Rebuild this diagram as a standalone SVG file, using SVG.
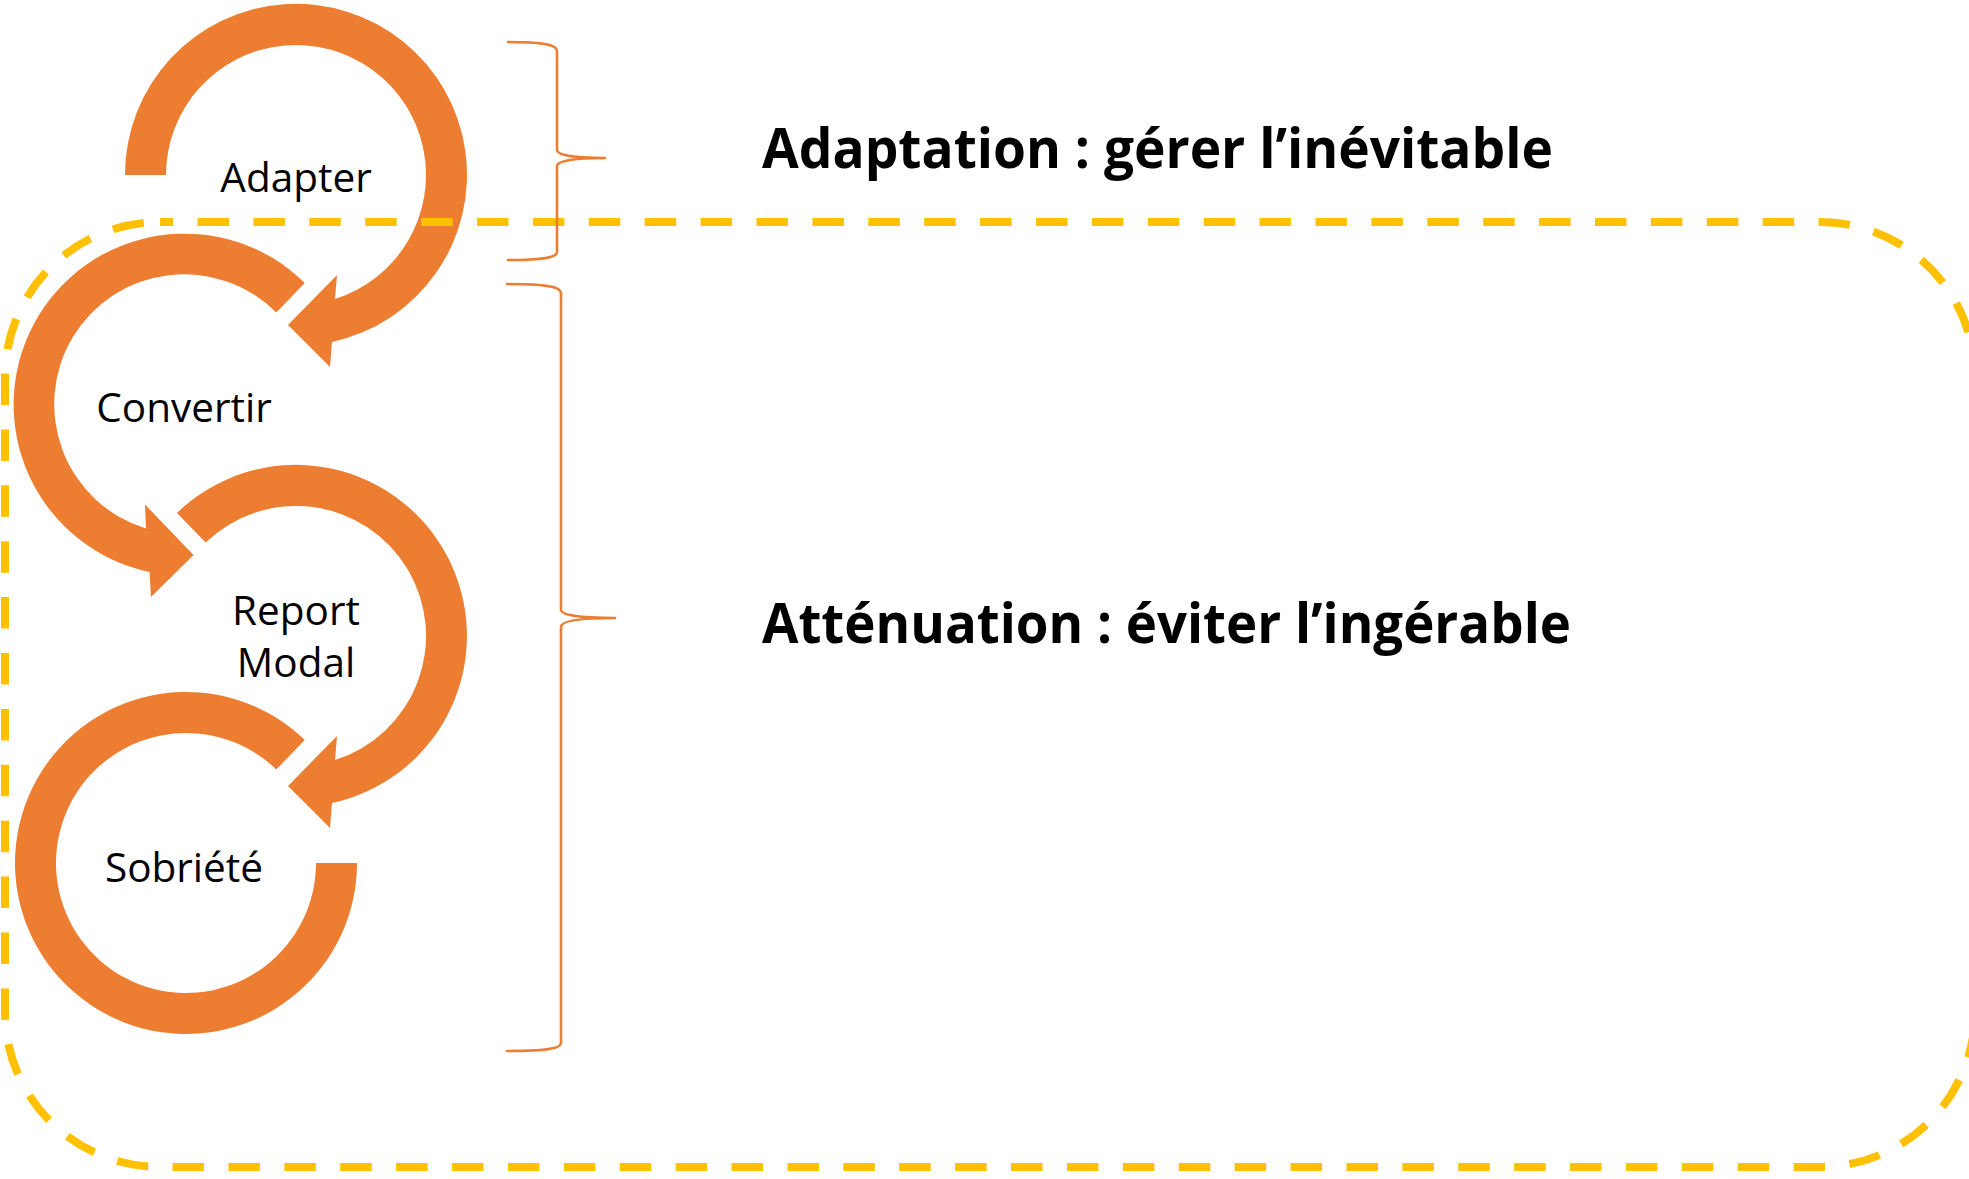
<svg xmlns="http://www.w3.org/2000/svg" width="1969" height="1179" viewBox="0 0 1969 1179">
  <style>
    .ring { fill: #ED7D31; stroke: none; }
    .label { font-family: "Open Sans", "Liberation Sans", sans-serif; font-size: 40.5px; fill: #000; text-anchor: middle; }
    .title { font-family: "Open Sans", "Liberation Sans", sans-serif; font-size: 55px; font-weight: 700; fill: #000; }
    .brace { fill: none; stroke: #ED7D31; stroke-width: 2.6; stroke-linecap: round; stroke-linejoin: round; }
    .frame { fill: none; stroke: #FFC000; stroke-width: 8; stroke-dasharray: 31.5 24.4; stroke-dashoffset: 18.4; }
  </style>
  <rect width="1969" height="1179" fill="#FFFFFF"/>

  <!-- cycle of circular arrows -->
  <g id="cycle">
    <g id="node-adapter">
      <path class="ring" d="M 125 175 A 171 171 0 1 1 332 342 L 330 367 L 288 325 L 337 275 L 335 299 A 130 130 0 1 0 166 175 Z"/>
      <text class="label" x="296" y="192">Adapter</text>
    </g>
    <g id="node-convertir">
      <path class="ring" d="M 304.8 283 A 171 171 0 1 0 149.5 572 L 151 597 L 193.5 555 L 145 504.5 L 146 528.5 A 130 130 0 1 1 276.3 312.5 Z"/>
      <text class="label" x="184" y="422">Convertir</text>
    </g>
    <g id="node-report-modal">
      <path class="ring" d="M 177 513 A 171 171 0 1 1 332 803 L 330 828 L 288 786 L 337 736 L 335 760 A 130 130 0 1 0 205.7 542.5 Z"/>
      <text class="label" x="296" y="625">Report</text>
      <text class="label" x="296" y="677">Modal</text>
    </g>
    <g id="node-sobriete">
      <path class="ring" d="M 304.8 740 A 171 171 0 1 0 357 863 L 316 863 A 130 130 0 1 1 276.3 769.5 Z"/>
      <text class="label" x="184" y="882">Sobriété</text>
    </g>
  </g>

  <!-- dashed frame around the mitigation levers -->
  <g id="scope-frame">
    <rect class="frame" x="5" y="222" width="1970" height="945" rx="155" ry="155"/>
  </g>

  <!-- curly braces linking the levers to their headings -->
  <g id="connectors">
    <path class="brace" d="M 508 42 C 545 42 557 45 557 51 L 557 150 C 557 155 572 158 605 158 C 572 158 557 161 557 166 L 557 252 C 557 257 545 260 508 260"/>
    <path class="brace" d="M 507 284 C 548 284 561 287 561 293 L 561 610 C 561 615 578 618 615 618 C 578 618 561 621 561 627 L 561 1043 C 561 1048 548 1051 507 1051"/>
  </g>

  <!-- headings -->
  <g id="titles">
    <text class="title" x="762" y="168" textLength="791" lengthAdjust="spacingAndGlyphs">Adaptation : gérer l’inévitable</text>
    <text class="title" x="762" y="643" textLength="809" lengthAdjust="spacingAndGlyphs">Atténuation : éviter l’ingérable</text>
  </g>
</svg>
